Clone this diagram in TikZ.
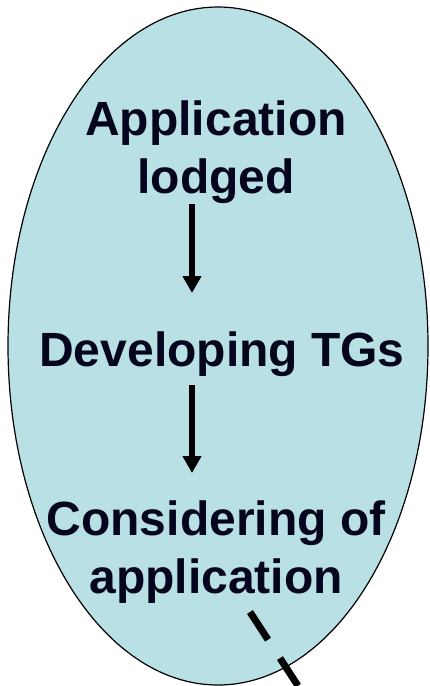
\documentclass[tikz,border=0pt]{standalone}
\usepackage{fontspec}
\setmainfont{Liberation Sans}
\usepackage{tikz}
\usetikzlibrary{positioning, arrows.meta}

\definecolor{bubble}{RGB}{185,224,228}
\definecolor{ink}{RGB}{5,5,30}

\tikzset{
    stage/.style={inner sep=0pt, align=center, text=ink,
        font=\bfseries\fontsize{48}{58}\selectfont},
    flow/.style={-{Triangle[width=18pt,length=17pt]}, line width=5.5pt}
}

\begin{document}
\begin{tikzpicture}[x=1pt,y=-1pt]
        \useasboundingbox (0,0) rectangle (429,686);

        \draw[fill=bubble, line width=1.2pt] (218,346) ellipse (210pt and 339pt);

        \node[stage, anchor=base] (lodged) at (216,193) {Application\\lodged};
        \node[stage, anchor=base] (tgs) at (222,366) {Developing TGs};
        \node[stage, anchor=base] (consider) at (216,593) {Considering of\\application};

        \coordinate (ax) at (192,0);
        \draw[flow, shorten <=1pt, shorten >=38pt] (lodged.south -| ax) -- (tgs.north -| ax);
        \draw[flow, shorten <=9pt, shorten >=27pt] (tgs.south -| ax) -- (consider.north -| ax);

        \coordinate (out) at (250,612);
        \coordinate (away) at (302,692);
        \draw[line width=7pt, dash pattern=on 33pt off 22pt] (out) -- (away);

    \end{tikzpicture}
\end{document}
